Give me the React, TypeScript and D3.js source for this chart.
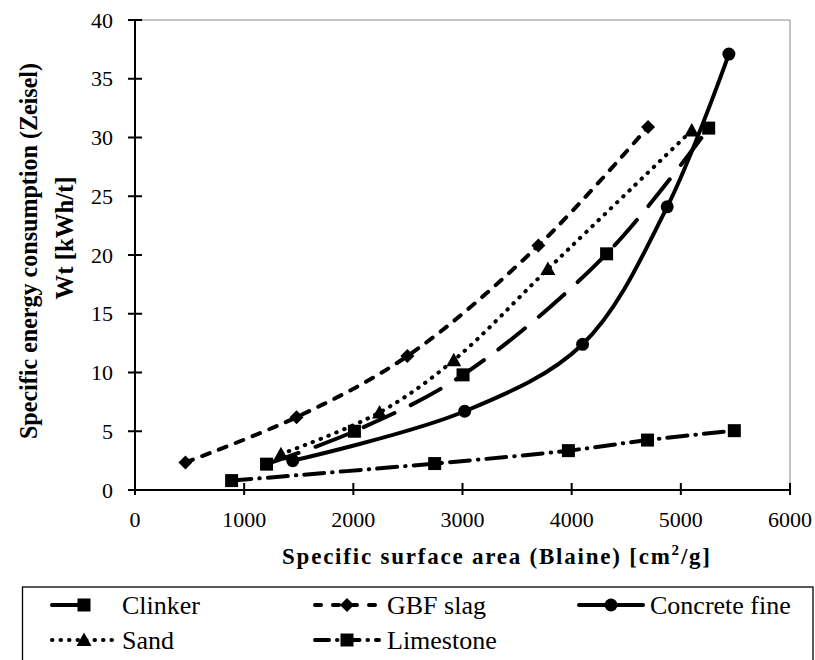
import React from "react";
import * as d3 from "d3";

// ---- data ----
const xTicks = [0, 1000, 2000, 3000, 4000, 5000, 6000];
const yTicks = [0, 5, 10, 15, 20, 25, 30, 35, 40];

const clinkerX = [1205, 2010, 3005, 4320, 5255];
const clinkerY = [2.2, 5.0, 9.8, 20.1, 30.8];

const slagX = [462, 1480, 2495, 3695, 4700];
const slagY = [2.35, 6.2, 11.4, 20.8, 30.9];

const concreteX = [1445, 3020, 4100, 4875, 5440];
const concreteY = [2.5, 6.7, 12.4, 24.1, 37.1];

const sandX = [1337, 2240, 2920, 3782, 5100];
const sandY = [3.05, 6.6, 11.05, 18.8, 30.6];

const limestoneX = [885, 2745, 3970, 4695, 5490];
const limestoneY = [0.8, 2.25, 3.35, 4.25, 5.05];

const seriesNames = ["Clinker", "GBF slag", "Concrete fine", "Sand", "Limestone"];

// ---- layout ----
const W = 815;
const H = 660;
const left = 135;
const right = 790;
const top = 20;
const bottom = 490;
const SERIF = "Liberation Serif";

type Marker = "square" | "diamond" | "circle" | "triangle";

const series = [
  { name: seriesNames[0], xs: clinkerX, ys: clinkerY, marker: "square" as Marker, dash: "34,18", legendDash: "36,60" },
  { name: seriesNames[1], xs: slagX, ys: slagY, marker: "diamond" as Marker, dash: "8,10", legendDash: "6,12" },
  { name: seriesNames[2], xs: concreteX, ys: concreteY, marker: "circle" as Marker, dash: "none", legendDash: "none" },
  { name: seriesNames[3], xs: sandX, ys: sandY, marker: "triangle" as Marker, dash: "0.5,8", legendDash: "0.5,8" },
  { name: seriesNames[4], xs: limestoneX, ys: limestoneY, marker: "square" as Marker, dash: "20,8,0.5,8", legendDash: "14,8,0.5,8" },
];

function MarkerShape({ type, cx, cy }: { type: Marker; cx: number; cy: number }) {
  if (type === "square") return <rect x={cx - 6.5} y={cy - 6.5} width={13} height={13} fill="#000" />;
  if (type === "circle") return <circle cx={cx} cy={cy} r={6.5} fill="#000" />;
  if (type === "diamond") {
    const r = 7;
    return <path d={`M${cx},${cy - r}L${cx + r},${cy}L${cx},${cy + r}L${cx - r},${cy}Z`} fill="#000" />;
  }
  const s = 7.5;
  return <path d={`M${cx},${cy - s}L${cx + s},${cy + s * 0.8}L${cx - s},${cy + s * 0.8}Z`} fill="#000" />;
}

export default function App() {
  const x = d3.scaleLinear().domain([0, 6000]).range([left, right]);
  const y = d3.scaleLinear().domain([0, 40]).range([bottom, top]);

  const lineGen = d3
    .line<[number, number]>()
    .x((d) => x(d[0]))
    .y((d) => y(d[1]))
    .curve(d3.curveCatmullRom.alpha(0.5));

  const legCols = [52, 315, 579];
  const legRows = [605, 640];
  const legendPos = [
    [0, 0],
    [1, 0],
    [2, 0],
    [0, 1],
    [1, 1],
  ];
  const textCols = [122, 387, 650];

  return (
    <svg width={W} height={H} style={{ position: "absolute", left: 0, top: 0 }}>
      <rect x={0} y={0} width={W} height={H} fill="#fff" />
      <line x1={left} y1={top} x2={right} y2={top} stroke="#888" strokeWidth={1} />
      <line x1={right} y1={top} x2={right} y2={bottom} stroke="#888" strokeWidth={1} />

      {series.map((s) => {
        const pts = s.xs.map((v, i) => [v, s.ys[i]] as [number, number]);
        return (
          <g key={s.name}>
            <path
              d={lineGen(pts) || ""}
              fill="none"
              stroke="#000"
              strokeWidth={4}
              strokeLinecap="round"
              strokeDasharray={s.dash}
            />
            {pts.map((p, i) => (
              <MarkerShape key={i} type={s.marker} cx={x(p[0])} cy={y(p[1])} />
            ))}
          </g>
        );
      })}

      <line x1={left} y1={top} x2={left} y2={bottom} stroke="#000" strokeWidth={2} />
      <line x1={left} y1={bottom} x2={right} y2={bottom} stroke="#000" strokeWidth={2} />
      {yTicks.map((t) => (
        <g key={"y" + t}>
          <line x1={left - 7} x2={left + 7} y1={y(t)} y2={y(t)} stroke="#000" strokeWidth={2} />
          <text x={113} y={y(t) + 7.5} textAnchor="end" fontSize={22} style={{ fontFamily: SERIF }}>
            {t}
          </text>
        </g>
      ))}
      {xTicks.map((t) => (
        <g key={"x" + t}>
          <line x1={x(t)} x2={x(t)} y1={bottom - 7} y2={bottom + 5} stroke="#000" strokeWidth={2} />
          <text x={x(t)} y={527} textAnchor="middle" fontSize={22} style={{ fontFamily: SERIF }}>
            {t}
          </text>
        </g>
      ))}

      <text x={282} y={564} fontSize={23} fontWeight="bold" textLength={428} lengthAdjust="spacing" style={{ fontFamily: SERIF }}>
        Specific surface area (Blaine) [cm
        <tspan fontSize={15} dy={-9}>
          2
        </tspan>
        <tspan dy={9}>/g]</tspan>
      </text>
      <text
        transform={`translate(37,251) rotate(-90)`}
        textAnchor="middle"
        fontSize={25}
        fontWeight="bold"
        textLength={376}
        lengthAdjust="spacingAndGlyphs"
        style={{ fontFamily: SERIF }}
      >
        Specific energy consumption (Zeisel)
      </text>
      <text
        transform={`translate(73,238) rotate(-90)`}
        textAnchor="middle"
        fontSize={25}
        fontWeight="bold"
        textLength={123}
        lengthAdjust="spacingAndGlyphs"
        style={{ fontFamily: SERIF }}
      >
        Wt [kWh/t]
      </text>

      <rect x={22.5} y={587} width={790.5} height={120} fill="#fff" stroke="#000" strokeWidth={1.3} />
      {series.map((s, i) => {
        const [c, r] = legendPos[i];
        const x0 = legCols[c];
        const cy = legRows[r];
        return (
          <g key={"leg" + s.name}>
            <line
              x1={x0}
              x2={x0 + 64}
              y1={cy}
              y2={cy}
              stroke="#000"
              strokeWidth={4}
              strokeLinecap="round"
              strokeDasharray={s.legendDash}
            />
            <MarkerShape type={s.marker} cx={x0 + 32} cy={cy} />
            <text x={textCols[c]} y={cy + 9} fontSize={26} style={{ fontFamily: SERIF }}>
              {s.name}
            </text>
          </g>
        );
      })}
    </svg>
  );
}
